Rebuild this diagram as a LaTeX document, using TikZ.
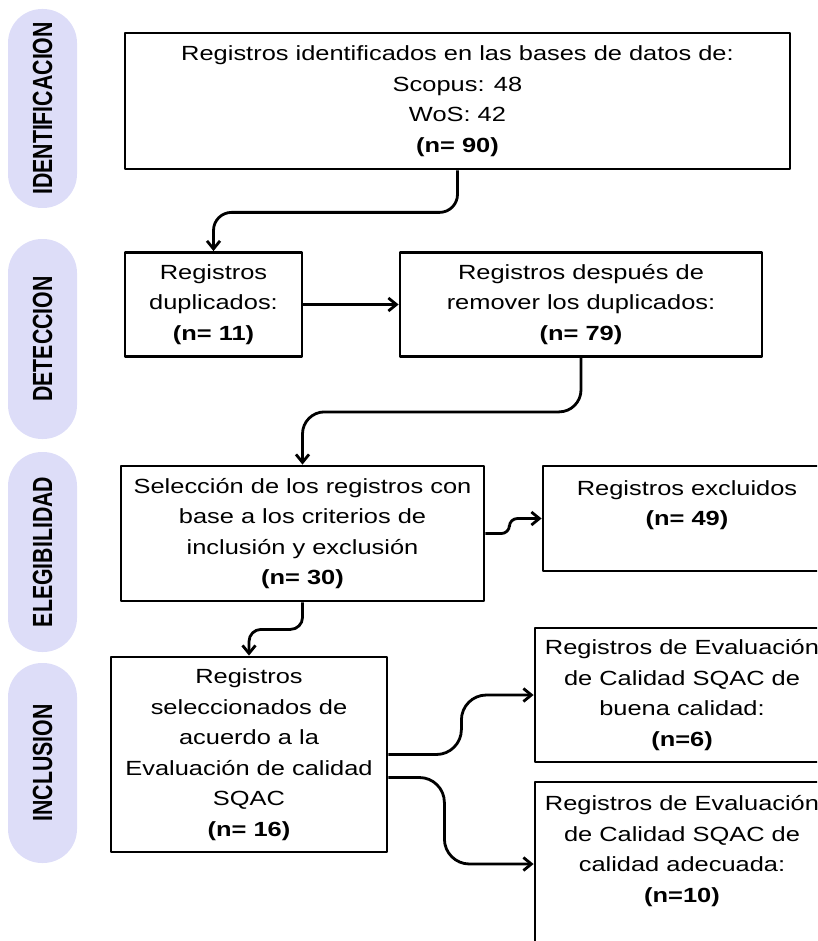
\documentclass[tikz,border=0pt]{standalone}
\usepackage{fontspec}
\usepackage{graphicx}
\setmainfont{Liberation Sans}
\newfontfamily\boxfont[FakeStretch=1.24]{Liberation Sans}
\usepackage{tikz}
\usetikzlibrary{arrows,arrows.meta}
\usetikzlibrary{positioning}
\definecolor{stagefill}{RGB}{221,221,248}
\newcommand{\stagelabel}[1]{\rotatebox{90}{\scalebox{1}[1.3]{\bfseries\fontsize{21.3}{21.3}\selectfont #1}}\hspace{6pt}}

\begin{document}
\begin{tikzpicture}[x=1pt, y=-1pt, line join=round]
		\tikzstyle{stage}=[rectangle, rounded corners=34pt, fill=stagefill, minimum width=69pt, inner sep=0pt]
		\tikzstyle{box}=[rectangle, draw=black, line width=2.8pt, inner sep=2pt, align=center, font=\boxfont\fontsize{20.5}{30.5}\selectfont]
		\tikzstyle{connect}=[-{Straight Barb[length=8pt,width=13pt]}, line width=2.8pt]
		\useasboundingbox (0,0) rectangle (817,941);
		\clip (0,0) rectangle (817,941);
		%\draw[help lines] (0,0) grid[step=50] (817,941);
		\node[stage, minimum height=199pt] (s_ident) at (42.5,108.5) {\stagelabel{IDENTIFICACION}};
		\node[stage, minimum height=200pt] (s_detect) at (42.5,339) {\stagelabel{DETECCION}};
		\node[stage, minimum height=200pt] (s_elig) at (42.5,552) {\stagelabel{ELEGIBILIDAD}};
		\node[stage, minimum height=200pt] (s_incl) at (42.5,763) {\stagelabel{INCLUSION}};
		\node[box, minimum width=665pt, minimum height=136pt] (ident) at (457.5,101) {Registros identificados en las bases de datos de:\\Scopus: 48\\WoS: 42\\\textbf{(n= 90)}};
		\node[box, minimum width=177pt, minimum height=104pt] (dup) at (213.5,304.5) {Registros\\duplicados:\\\textbf{(n= 11)}};
		\node[box, minimum width=362pt, minimum height=104pt] (after) at (581,304.5) {Registros después de\\remover los duplicados:\\\textbf{(n= 79)}};
		\node[box, minimum width=363pt, minimum height=135pt] (screen) at (302.5,533.5) {Selección de los registros con\\base a los criterios de\\inclusión y exclusión\\\textbf{(n= 30)}};
		\node[box, minimum width=288pt, minimum height=105pt] (excl) at (687,518.5) {Registros excluidos\\\textbf{(n= 49)}\\\mbox{}};
		\node[box, minimum width=276pt, minimum height=195pt] (chosen) at (249,754.5) {Registros\\seleccionados de\\acuerdo a la\\Evaluación de calidad\\SQAC\\\textbf{(n= 16)}};
		\node[box, minimum width=294pt, minimum height=134pt] (good) at (682,695) {Registros de Evaluación\\de Calidad SQAC de\\buena calidad:\\\textbf{(n=6)}};
		\node[box, minimum width=294pt, minimum height=164pt] (fair) at (682,864) {Registros de Evaluación\\de Calidad SQAC de\\calidad adecuada:\\\textbf{(n=10)}\\\mbox{}};
		\path
		(dup) edge [connect] (after)
		;
		\draw[connect, rounded corners=18pt] (ident.south) -- ++(0,42) -| (dup.north);
		\draw[connect, rounded corners=22pt] (after.south) -- ++(0,54) -| (screen.north);
		\draw[connect, rounded corners=12pt] (screen.south) -- ++(0,27) -| (chosen.north);
		\draw[connect, rounded corners=8pt] (screen.east) -- ++(24,0) |- (excl.west);
		\draw[connect, rounded corners=25pt] (chosen.east) -- ++(73,0) |- (good.west);
		\draw[connect, rounded corners=25pt] ([yshift=-23pt]chosen.east) -- ++(56,0) |- (fair.west);
	\end{tikzpicture}
\end{document}
